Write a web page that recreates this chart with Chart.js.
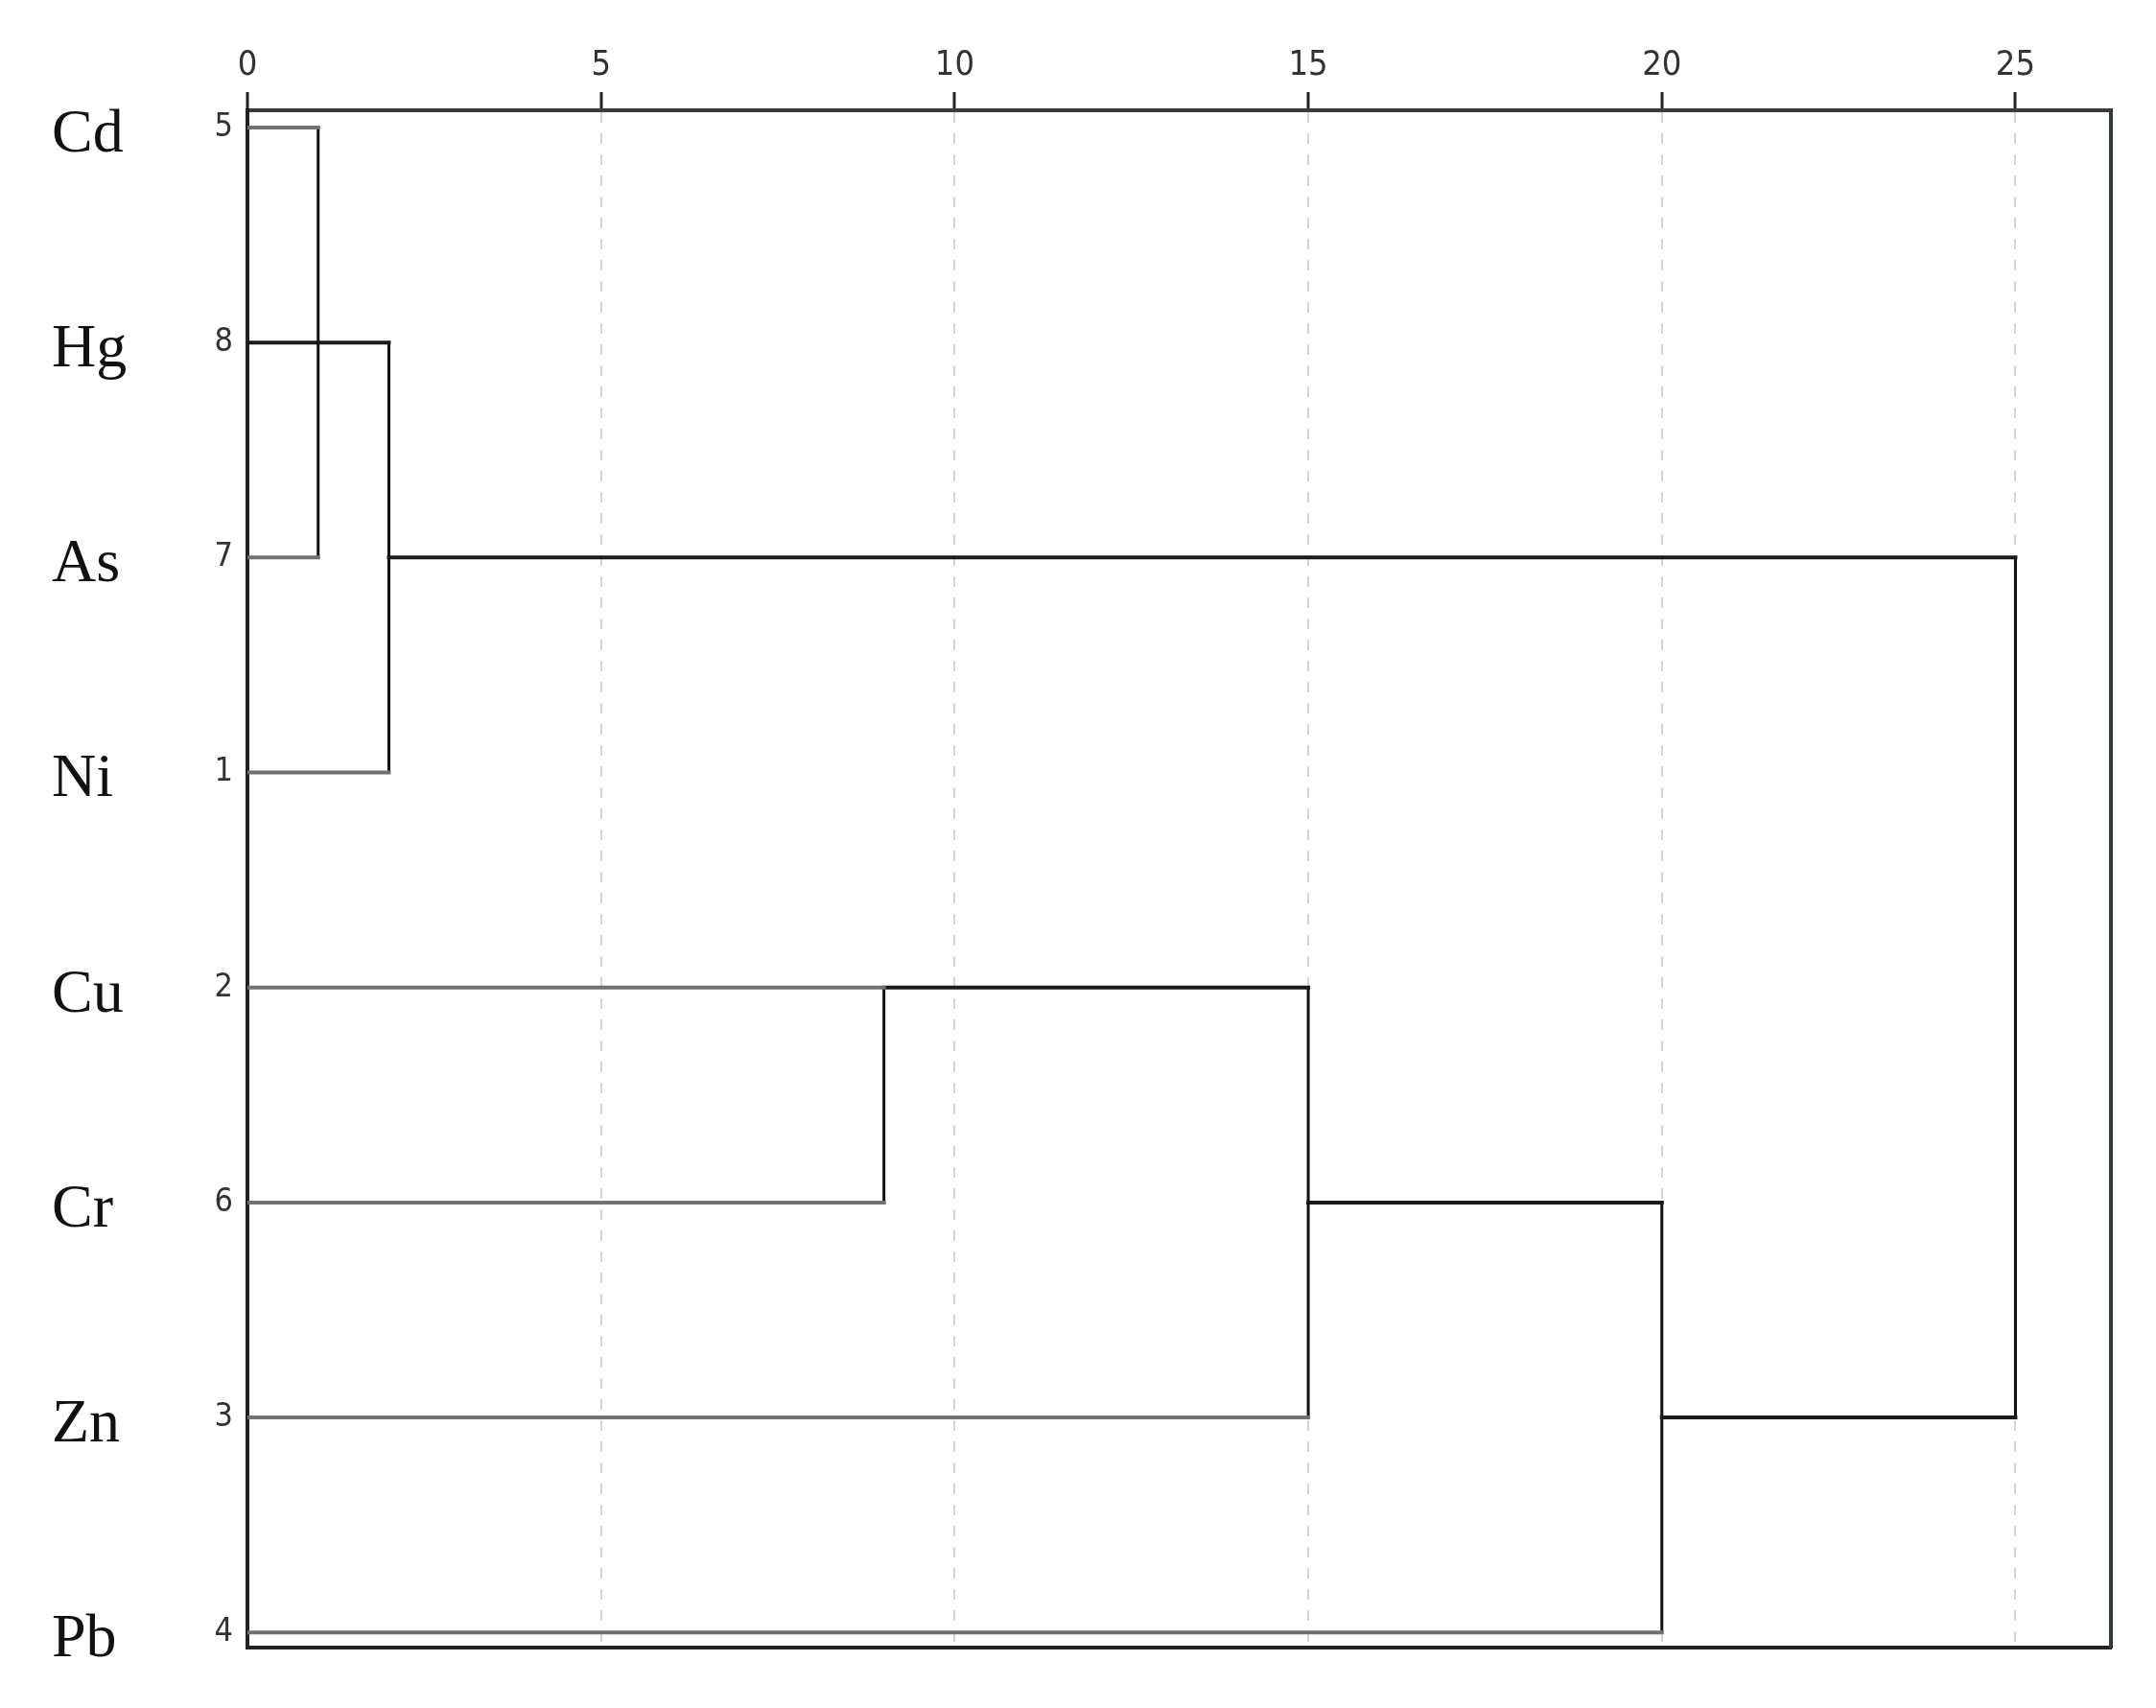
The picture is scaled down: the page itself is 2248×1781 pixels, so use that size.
<!DOCTYPE html>
<html>
<head>
<meta charset="utf-8">
<title>Dendrogram</title>
<script src="https://cdn.jsdelivr.net/npm/chart.js"></script>
<style>
  html, body { margin: 0; padding: 0; background: #fff; }
  canvas { display: block; }
</style>
</head>
<body>
<canvas id="dendro" width="2248" height="1781"></canvas>
<script>
// rows from top to bottom
const elements = ["Cd", "Hg", "As", "Ni", "Cu", "Cr", "Zn", "Pb"];
const caseNumbers = ["5", "8", "7", "1", "2", "6", "3", "4"];

// rescaled distance axis
const distMin = 0;
const distMax = 26.35;
const distStep = 5;

// leaf lines: [row, from, to]
const leafLinks = [
  [0, 0, 1],
  [2, 0, 1],
  [3, 0, 2],
  [4, 0, 9],
  [5, 0, 9],
  [6, 0, 15],
  [7, 0, 20],
];
// cluster lines: [row, from, to]
const clusterLinks = [
  [1, 0, 2],
  [2, 2, 25],
  [4, 9, 15],
  [5, 15, 20],
  [6, 20, 25],
];
// joins: [distance, fromRow, toRow]
const joins = [
  [1, 0, 2],
  [2, 1, 3],
  [9, 4, 5],
  [15, 4, 6],
  [20, 5, 7],
  [25, 2, 6],
];

const datasets = [];
leafLinks.forEach(([r, a, b]) => {
  datasets.push({
    data: [{ x: a, y: r }, { x: b, y: r }],
    borderColor: "#727272",
    borderWidth: 4,
  });
});
clusterLinks.forEach(([r, a, b]) => {
  datasets.push({
    data: [{ x: a, y: r }, { x: b, y: r }],
    borderColor: "#1a1a1a",
    borderWidth: 4,
  });
});
joins.forEach(([d, r0, r1]) => {
  datasets.push({
    data: [{ x: d, y: r0 }, { x: d, y: r1 }],
    borderColor: "#111111",
    borderWidth: 3,
  });
});
datasets.forEach((ds) => {
  ds.showLine = true;
  ds.pointRadius = 0;
  ds.pointHoverRadius = 0;
  ds.borderCapStyle = "square";
  ds.fill = false;
});

const narrow = "'Liberation Sans Narrow', 'DejaVu Sans Condensed', Arial, sans-serif";
const rowMin = -0.08;
const rowMax = 7.07;

new Chart(document.getElementById("dendro").getContext("2d"), {
  type: "scatter",
  data: { datasets: datasets },
  options: {
    responsive: false,
    animation: false,
    events: [],
    layout: { padding: { left: 54, top: 0, right: 0, bottom: 0 } },
    plugins: {
      legend: { display: false },
      tooltip: { enabled: false },
    },
    scales: {
      x: {
        type: "linear",
        position: "top",
        min: distMin,
        max: distMax,
        afterFit: (s) => { s.height = 115; },
        ticks: {
          stepSize: distStep,
          includeBounds: false,
          color: "#333",
          padding: 6,
          maxRotation: 0,
          font: { family: narrow, size: 36 },
        },
        grid: {
          color: (c) => (c.tick && c.tick.value === 0 ? "rgba(0,0,0,0)" : "#d4d4d4"),
          lineWidth: 2,
          tickColor: "#222",
          tickWidth: 3,
          tickLength: 19,
          tickBorderDash: [],
        },
        border: { display: true, color: "#3a3a3a", width: 4, dash: [11, 11] },
      },
      x2: {
        type: "linear",
        position: "bottom",
        afterFit: (s) => { s.height = 63; },
        ticks: { display: false },
        grid: { display: false },
        border: { display: true, color: "#222", width: 4 },
      },
      y: {
        type: "linear",
        position: "left",
        reverse: true,
        min: rowMin,
        max: rowMax,
        weight: 0,
        afterFit: (s) => { s.width = 60; },
        ticks: {
          stepSize: 1,
          includeBounds: false,
          padding: 7,
          color: "#333",
          font: { family: narrow, size: 34 },
          callback: (v) => caseNumbers[Math.round(v)],
        },
        grid: { display: false },
        border: { display: true, color: "#222", width: 4 },
      },
      yNames: {
        type: "linear",
        position: "left",
        reverse: true,
        min: rowMin,
        max: rowMax,
        weight: 10,
        afterFit: (s) => { s.width = 144; },
        ticks: {
          stepSize: 1,
          includeBounds: false,
          crossAlign: "far",
          labelOffset: 8,
          color: "#111",
          font: { family: "'Liberation Serif', 'Times New Roman', serif", size: 64 },
          callback: (v) => elements[Math.round(v)],
        },
        grid: { display: false },
        border: { display: false },
      },
      yRight: {
        type: "linear",
        position: "right",
        afterFit: (s) => { s.width = 47; },
        ticks: { display: false },
        grid: { display: false },
        border: { display: true, color: "#2e3a33", width: 4 },
      },
    },
  },
});
</script>
</body>
</html>
